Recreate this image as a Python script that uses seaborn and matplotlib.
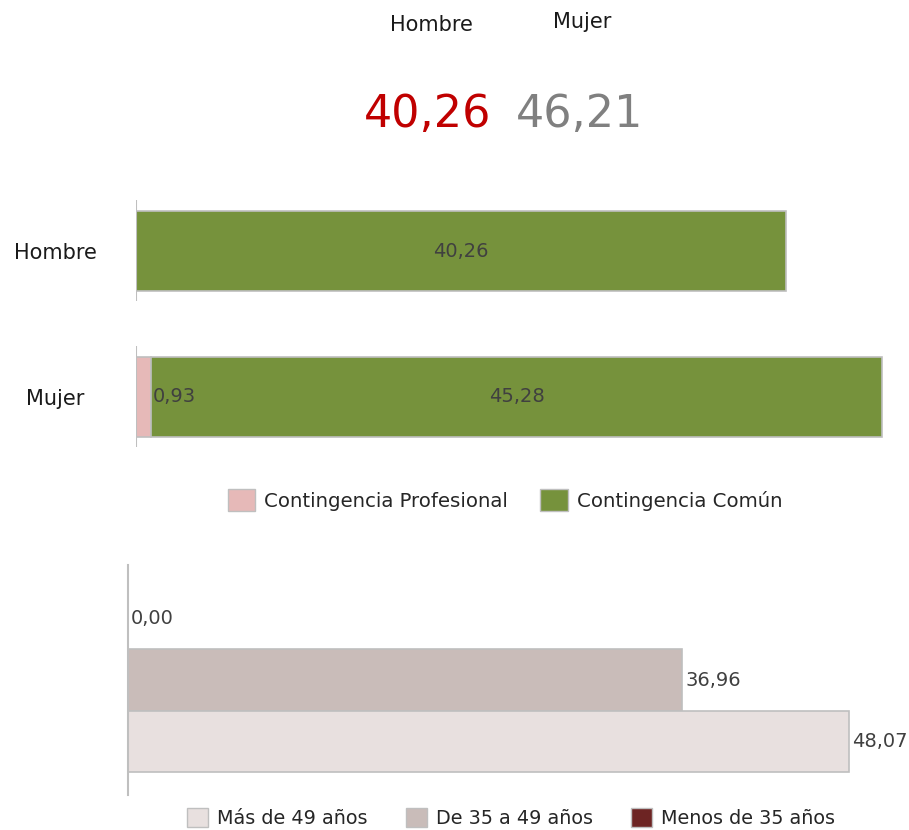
import pandas as pd
import numpy as np
import matplotlib
matplotlib.use("Agg")
import matplotlib.pyplot as plt
from matplotlib.patches import Patch
import seaborn as sns

sns.set_style("white")
plt.rcParams['font.family'] = ['DejaVu Sans']

# datos
sexos = ['Hombre', 'Mujer']
totales = [40.26, 46.21]
profesional = [0.0, 0.93]
comun = [40.26, 45.28]

edades = ['Menos de 35 años', 'De 35 a 49 años', 'Más de 49 años']
valores_edad = [0.00, 36.96, 48.07]

c_prof = '#e6b9b8'
c_comun = '#76923c'
colores_edad = ['#6d2423', '#c9bcb9', '#e8e0df']
borde = '#bfbfbf'
txt = '#404040'


def fmt(v):
    return f"{v:.2f}".replace('.', ',')


fig = plt.figure(figsize=(9.09, 8.30), dpi=100)

# cabecera
fig.text(431 / 909, 1 - 25 / 830, sexos[0], ha='center', va='center', fontsize=15, color='#1a1a1a')
fig.text(582 / 909, 1 - 22 / 830, sexos[1], ha='center', va='center', fontsize=15, color='#1a1a1a')
fig.text(428 / 909, 1 - 115 / 830, fmt(totales[0]), ha='center', va='center', fontsize=32, color='#c00000')
fig.text(580 / 909, 1 - 115 / 830, fmt(totales[1]), ha='center', va='center', fontsize=32, color='#808080')

# grafico 1: contingencia
df1 = pd.DataFrame({'sexo': sexos, 'profesional': profesional, 'comun': comun})
ax1 = fig.add_axes([136 / 909, 360 / 830, 758.7 / 909, 292 / 830])
sns.barplot(data=df1, y='sexo', x='profesional', color=c_prof, width=0.55, saturation=1,
            edgecolor=borde, linewidth=1.2, ax=ax1)
sns.barplot(data=df1, y='sexo', x='comun', color=c_comun, width=0.55, saturation=1,
            edgecolor=borde, linewidth=1.2, left=profesional, ax=ax1)
ax1.set_xlim(0, 47)
ax1.set_ylim(1.5, -0.5)
ax1.bar_label(ax1.containers[0], labels=['' if v == 0 else fmt(v) for v in profesional],
              padding=1, fontsize=14, color=txt)
ax1.bar_label(ax1.containers[1], labels=[fmt(v) for v in comun],
              label_type='center', fontsize=14, color=txt)
for i in range(len(sexos)):
    ax1.vlines(0, i - 0.35, i + 0.34, color=borde, lw=1.5)
sns.despine(ax=ax1, left=True, bottom=True)
ax1.set_xticks([])
ax1.set_xlabel('')
ax1.set_ylabel('')
ax1.tick_params(axis='y', length=0, pad=58)
for lab in ax1.get_yticklabels():
    lab.set_ha('center')
    lab.set_fontsize(15)
    lab.set_color('#1a1a1a')

fig.legend(handles=[Patch(facecolor=c_prof, edgecolor=borde, label='Contingencia Profesional'),
                    Patch(facecolor=c_comun, edgecolor=borde, label='Contingencia Común')],
           loc='center', bbox_to_anchor=(505 / 909, 1 - 500 / 830), ncol=2, frameon=False,
           fontsize=14.2, handlelength=1.4, handleheight=1.3, handletextpad=0.45,
           columnspacing=1.65, labelcolor='#262626')

# grafico 2: edad
df2 = pd.DataFrame({'edad': edades, 'valor': valores_edad})
ax2 = fig.add_axes([128 / 909, 35 / 830, 750 / 909, 230 / 830])
sns.barplot(data=df2, y='edad', x='valor', hue='edad', order=edades, hue_order=edades,
            palette=colores_edad, width=1.0, saturation=1, edgecolor=borde, linewidth=1.2,
            legend=False, ax=ax2)
ax2.set_xlim(0, 50)
ax2.set_ylim(2.885, -0.885)
for c in ax2.containers:
    ax2.bar_label(c, labels=[fmt(v) for v in c.datavalues], padding=2, fontsize=14, color=txt)
sns.despine(ax=ax2, bottom=True)
ax2.spines['left'].set_color(borde)
ax2.spines['left'].set_linewidth(1.5)
ax2.set_xticks([])
ax2.set_yticks([])
ax2.set_xlabel('')
ax2.set_ylabel('')

fig.legend(handles=[Patch(facecolor=colores_edad[2], edgecolor=borde, label=edades[2]),
                    Patch(facecolor=colores_edad[1], edgecolor=borde, label=edades[1]),
                    Patch(facecolor=colores_edad[0], edgecolor=borde, label=edades[0])],
           loc='center', bbox_to_anchor=(511 / 909, 1 - 818 / 830), ncol=3, frameon=False,
           fontsize=13.8, handlelength=1.1, handleheight=1.1, handletextpad=0.45,
           columnspacing=2.0, labelcolor='#262626')

fig.savefig('out.png', dpi=100)
